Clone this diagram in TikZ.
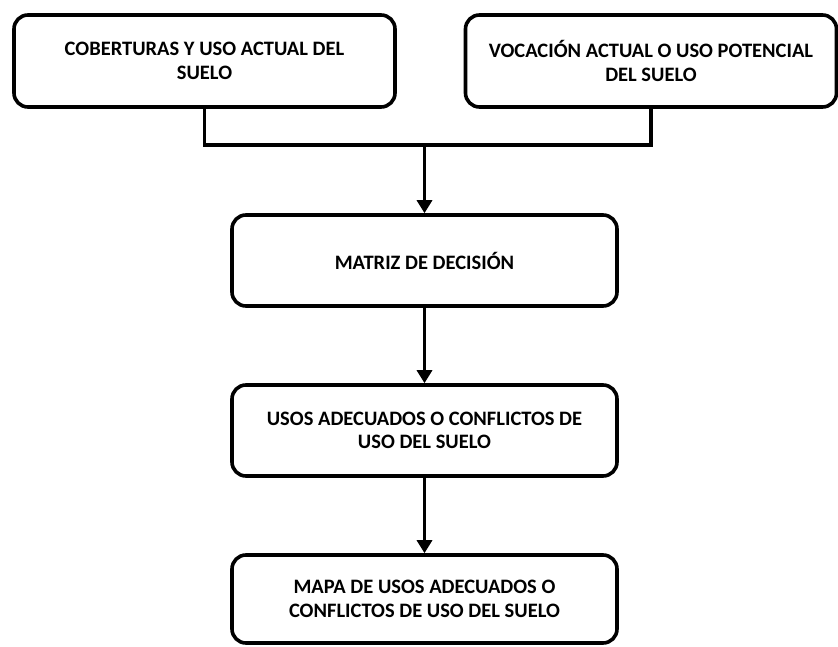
\documentclass[tikz,border=0pt]{standalone}
\usepackage{fontspec}
\setmainfont{Carlito}
\usetikzlibrary{arrows.meta}
\begin{document}
\begin{tikzpicture}[x=1pt,y=-1pt,
  box/.style={draw=black, line width=3.6pt, rounded corners=14pt, minimum height=92pt, align=center, font=\bfseries\fontsize{20.5}{23.5}\selectfont, inner sep=0pt},
  conn/.style={draw=black, line width=3.6pt},
  arr/.style={conn, -{Triangle[width=15pt,length=13pt]}}]
\useasboundingbox (0,0) rectangle (838,647);
\node[box, minimum width=381pt] (A) at (204.5,61) {COBERTURAS Y USO ACTUAL DEL\\SUELO};
\node[box, minimum width=371pt] (B) at (651,61) {VOCACIÓN ACTUAL O USO POTENCIAL\\DEL SUELO};
\node[box, minimum width=385pt, minimum height=91pt] (M) at (424.5,260.5) {MATRIZ DE DECISIÓN};
\node[box, minimum width=385pt, minimum height=91pt] (U) at (424.5,430.5) {USOS ADECUADOS O CONFLICTOS DE\\USO DEL SUELO};
\node[box, minimum width=385pt, minimum height=88pt] (P) at (424.5,599) {MAPA DE USOS ADECUADOS O\\CONFLICTOS DE USO DEL SUELO};
\coordinate (J) at (M.north |- 0,145);
\draw[conn] (A.south) |- (J) -| (B.south);
\draw[arr] (J) -- (M.north);
\draw[arr] (M.south) -- (U.north);
\draw[arr] (U.south) -- (P.north);
\end{tikzpicture}
\end{document}
